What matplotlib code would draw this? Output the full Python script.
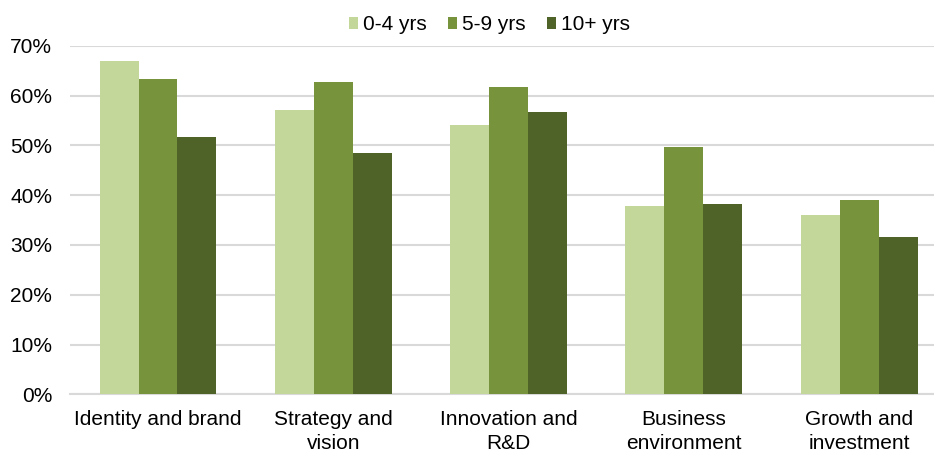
import numpy as np
import matplotlib.pyplot as plt
from matplotlib.ticker import PercentFormatter

plt.rcParams["font.family"] = ["Liberation Sans", "DejaVu Sans"]

categories = ["Identity and brand", "Strategy and\nvision", "Innovation and\nR&D",
              "Business\nenvironment", "Growth and\ninvestment"]
series = ["0-4 yrs", "5-9 yrs", "10+ yrs"]
yrs_0_4 = [67.0, 57.1, 54.1, 37.8, 36.0]
yrs_5_9 = [63.4, 62.7, 61.8, 49.6, 39.0]
yrs_10p = [51.7, 48.4, 56.7, 38.3, 31.6]
colors = ["#C4D79B", "#77933C", "#4F6228"]

fig = plt.figure(figsize=(9.34, 4.53), dpi=100)
ax = fig.add_axes([0.0753, 0.1296, 0.9384, 0.769])

x = np.arange(len(categories))
w = 0.222
for i, (vals, name) in enumerate(zip([yrs_0_4, yrs_5_9, yrs_10p], series)):
    ax.bar(x + (i - 1) * w, vals, width=w, color=colors[i], label=name, zorder=3)

ax.set_xlim(-0.5, len(categories) - 0.5)
ax.set_ylim(0, 70)
ax.set_yticks(np.arange(0, 71, 10))
ax.yaxis.set_major_formatter(PercentFormatter(decimals=0))
ax.grid(axis="y", color="#D9D9D9", linewidth=1.5, zorder=0)
for s in ["top", "right", "left"]:
    ax.spines[s].set_visible(False)
ax.spines["bottom"].set_color("#D9D9D9")
ax.spines["bottom"].set_linewidth(1.5)
ax.set_xticks(x)
ax.set_xticklabels(categories, fontsize=15, linespacing=1.3)
ax.tick_params(axis="both", length=0, labelsize=15, colors="black")
ax.tick_params(axis="x", pad=11.5)
ax.tick_params(axis="y", pad=13)

fig.legend(loc="center", bbox_to_anchor=(0.524, 0.945), ncol=3, frameon=False,
           fontsize=15, handlelength=0.45, handleheight=0.45, handletextpad=0.25,
           columnspacing=1.0)

fig.savefig("out.png")
